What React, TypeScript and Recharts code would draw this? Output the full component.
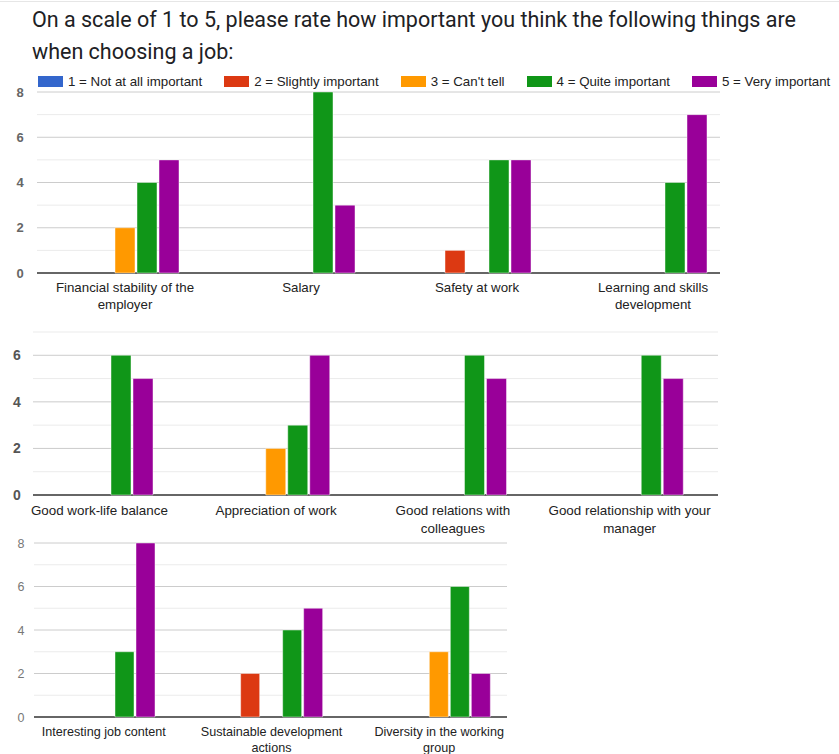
import React from "react";
import { BarChart, Bar, XAxis, YAxis, CartesianGrid } from "recharts";

const ratings = [
  "1 = Not at all important",
  "2 = Slightly important",
  "3 = Can't tell",
  "4 = Quite important",
  "5 = Very important",
];
const ratingKeys = ["r1", "r2", "r3", "r4", "r5"];
const ratingColors = ["#3366cc", "#dc3912", "#ff9900", "#109618", "#990099"];

const topItems = [
  "Financial stability of the employer",
  "Salary",
  "Safety at work",
  "Learning and skills development",
];
const topCounts = [
  [0, 0, 2, 4, 5],
  [0, 0, 0, 8, 3],
  [0, 1, 0, 5, 5],
  [0, 0, 0, 4, 7],
];

const midItems = [
  "Good work-life balance",
  "Appreciation of work",
  "Good relations with colleagues",
  "Good relationship with your manager",
];
const midCounts = [
  [0, 0, 0, 6, 5],
  [0, 0, 2, 3, 6],
  [0, 0, 0, 6, 5],
  [0, 0, 0, 6, 5],
];

const lowItems = [
  "Interesting job content",
  "Sustainable development actions",
  "Diversity in the working group",
];
const lowCounts = [
  [0, 0, 0, 3, 8],
  [0, 2, 0, 4, 5],
  [0, 0, 3, 6, 2],
];

const font = "Arial, 'Liberation Sans', sans-serif";

// measure with a canvas so wrapping follows the real font
const measureCtx = document.createElement("canvas").getContext("2d");
function wrapWords(text: string, maxWidth: number, size: number) {
  if (!measureCtx) return [text];
  measureCtx.font = `${size}px ${font}`;
  const lines: string[] = [];
  let cur = "";
  text.split(" ").forEach((w) => {
    const next = cur ? cur + " " + w : w;
    if (cur && measureCtx.measureText(next).width > maxWidth) {
      lines.push(cur);
      cur = w;
    } else {
      cur = next;
    }
  });
  if (cur) lines.push(cur);
  return lines;
}

function toRows(items: string[], counts: number[][]) {
  return items.map((name, i) => {
    const row: any = { name };
    ratingKeys.forEach((k, j) => (row[k] = counts[i][j]));
    return row;
  });
}

type PanelProps = {
  items: string[];
  counts: number[][];
  top: number;
  width: number;
  height: number;
  marginTop: number;
  marginRight: number;
  yWidth: number;
  xHeight: number;
  max: number;
  gridX: [number, number];
  labelX: number;
  yFont: number;
  yWeight: string;
  yColor: string;
  xFont: number;
  labelWidth: number;
  labelGap: number;
  lineGap: number;
  barSize: number;
};

function Panel(p: PanelProps) {
  const data = toRows(p.items, p.counts);
  const plotTop = p.marginTop;
  const plotBottom = p.height - p.xHeight;
  const ticks = Array.from({ length: p.max + 1 }, (_, i) => i);

  const gridLine = (g: any) => {
    const v = Math.round(((plotBottom - g.y1) / (plotBottom - plotTop)) * p.max);
    const stroke = v === 0 ? "#333" : v % 2 === 0 ? "#cccccc" : "#ebebeb";
    return (
      <line
        key={g.key}
        x1={p.gridX[0]}
        x2={p.gridX[1]}
        y1={g.y1}
        y2={g.y2}
        stroke={stroke}
        strokeWidth={v === 0 ? 1.5 : 1}
      />
    );
  };

  return (
    <div style={{ position: "absolute", left: 0, top: p.top }}>
      <BarChart
        width={p.width}
        height={p.height}
        data={data}
        margin={{ top: p.marginTop, right: p.marginRight, left: 0, bottom: 0 }}
        barSize={p.barSize}
        barGap={2}
      >
        <CartesianGrid vertical={false} horizontal={gridLine} />
        <YAxis
          width={p.yWidth}
          domain={[0, p.max]}
          ticks={ticks}
          interval={0}
          axisLine={false}
          tickLine={false}
          tick={(t: any) =>
            t.payload.value % 2 ? (
              <g />
            ) : (
              <text
                x={p.labelX}
                y={t.y}
                dy="0.36em"
                textAnchor="middle"
                fontSize={p.yFont}
                fontWeight={p.yWeight}
                fontFamily={font}
                fill={p.yColor}
              >
                {t.payload.value}
              </text>
            )
          }
        />
        <XAxis
          dataKey="name"
          height={p.xHeight}
          axisLine={false}
          tickLine={false}
          interval={0}
          tick={(t: any) => {
            const lines = wrapWords(String(t.payload.value), p.labelWidth, p.xFont);
            return (
              <text
                x={t.x}
                y={plotBottom + p.labelGap}
                textAnchor="middle"
                fontSize={p.xFont}
                fontFamily={font}
                fill="#222"
              >
                {lines.map((ln, i) => (
                  <tspan key={i} x={t.x} dy={i === 0 ? "0.71em" : p.lineGap}>
                    {ln}
                  </tspan>
                ))}
              </text>
            );
          }}
        />
        {ratingKeys.map((k, i) => (
          <Bar
            key={k}
            dataKey={k}
            name={ratings[i]}
            fill={ratingColors[i]}
            stroke="#ffffff"
            strokeOpacity={0.45}
            strokeWidth={1}
            isAnimationActive={false}
          />
        ))}
      </BarChart>
    </div>
  );
}

export default function App() {
  return (
    <div
      style={{
        position: "absolute",
        left: 0,
        top: 0,
        width: 839,
        height: 754,
        background: "#fff",
        overflow: "hidden",
      }}
    >
      <div style={{ position: "absolute", left: 0, top: 1, width: 839, height: 1, background: "#e6e6e6" }} />
      <div
        style={{
          position: "absolute",
          left: 32,
          top: 4,
          width: 790,
          fontFamily: "Roboto, sans-serif",
          fontSize: 21.5,
          lineHeight: "32px",
          color: "#202124",
        }}
      >
        On a scale of 1 to 5, please rate how important you think the following things are when choosing a job:
      </div>
      <div
        style={{
          position: "absolute",
          left: 38,
          top: 74,
          display: "flex",
          alignItems: "center",
          fontFamily: font,
          fontSize: 13.3,
          color: "#222",
          whiteSpace: "nowrap",
        }}
      >
        {ratings.map((r, i) => (
          <div key={r} style={{ display: "flex", alignItems: "center", marginRight: 22 }}>
            <span style={{ width: 25, height: 11, background: ratingColors[i], marginRight: 5, display: "inline-block" }} />
            <span>{r}</span>
          </div>
        ))}
      </div>
      <Panel
        items={topItems}
        counts={topCounts}
        top={80}
        width={760}
        height={240}
        marginTop={12}
        marginRight={19}
        yWidth={37}
        xHeight={47}
        max={8}
        gridX={[37, 720]}
        labelX={20}
        yFont={13}
        yWeight="bold"
        yColor="#666"
        xFont={13.3}
        labelWidth={160}
        labelGap={10}
        lineGap={17}
        barSize={20}
      />
      <Panel
        items={midItems}
        counts={midCounts}
        top={320}
        width={740}
        height={225}
        marginTop={12}
        marginRight={22}
        yWidth={11}
        xHeight={50}
        max={7}
        gridX={[33, 718]}
        labelX={17}
        yFont={14}
        yWeight="bold"
        yColor="#555"
        xFont={13.4}
        labelWidth={170}
        labelGap={10}
        lineGap={18}
        barSize={20}
      />
      <Panel
        items={lowItems}
        counts={lowCounts}
        top={531}
        width={540}
        height={228}
        marginTop={12}
        marginRight={17}
        yWidth={20}
        xHeight={42}
        max={8}
        gridX={[34, 507]}
        labelX={21}
        yFont={12.5}
        yWeight="normal"
        yColor="#777"
        xFont={12.6}
        labelWidth={150}
        labelGap={10}
        lineGap={16}
        barSize={19}
      />
    </div>
  );
}
